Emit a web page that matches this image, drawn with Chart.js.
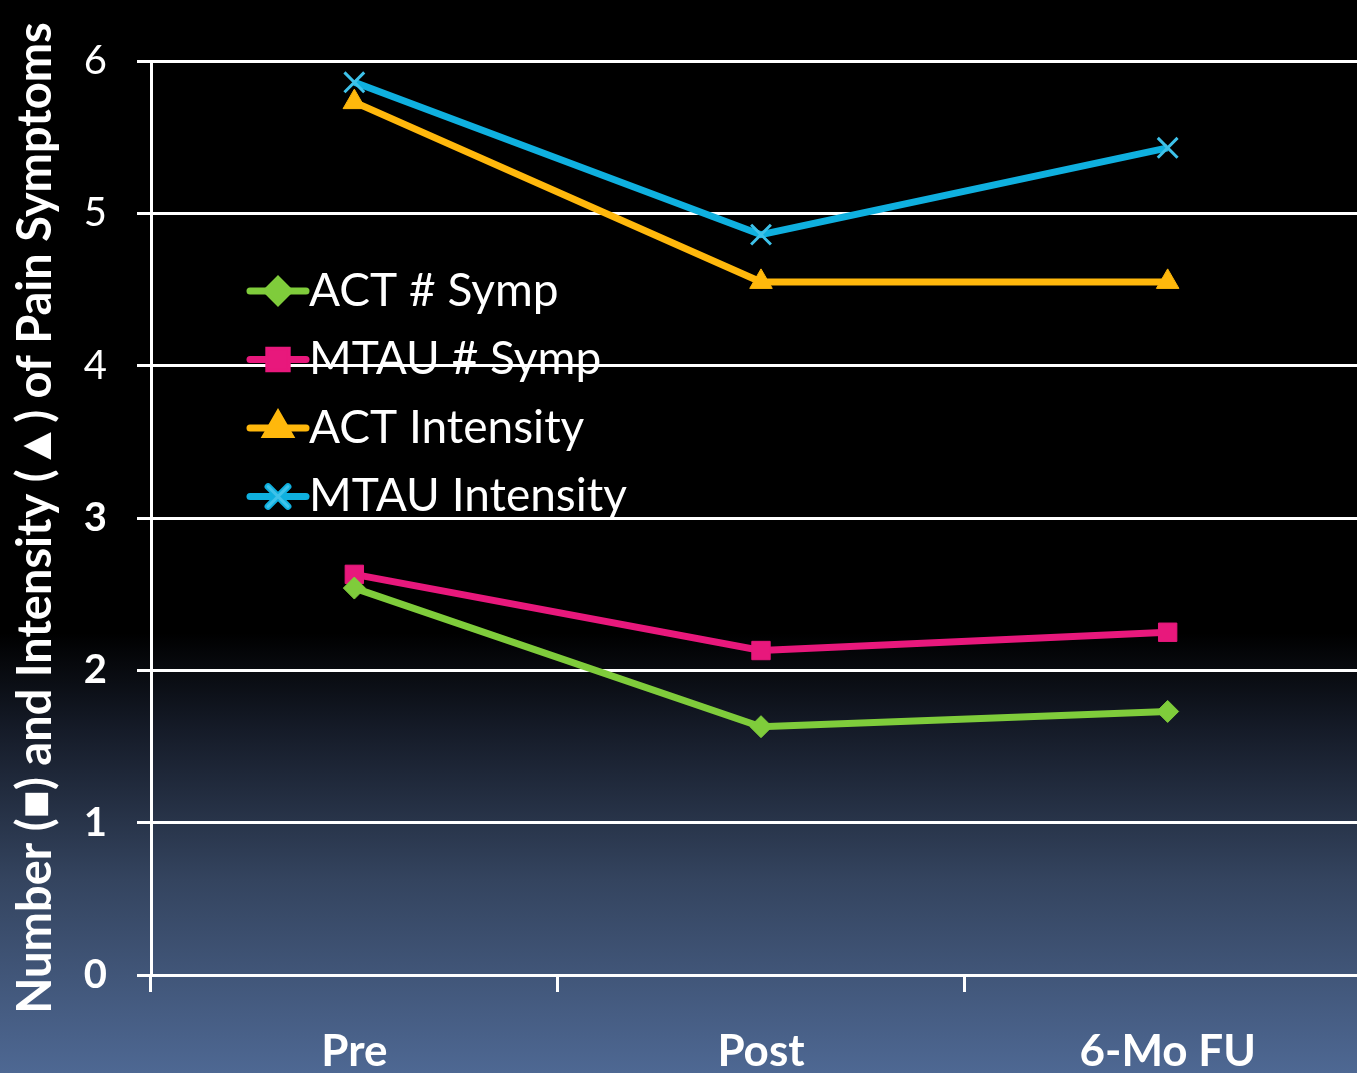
<!DOCTYPE html>
<html>
<head>
<meta charset="utf-8">
<script src="https://cdn.jsdelivr.net/npm/chart.js@4.4.0/dist/chart.umd.min.js"></script>
<style>
    html, body { margin: 0; padding: 0; overflow: hidden; background: #000; }
    #painChart { display: block; }
</style>
</head>
<body>
<canvas id="painChart" width="1388" height="1073"></canvas>
<script>
/* ================================
   DATA
================================ */

const categories = ["Pre", "Post", "6-Mo FU"];

const actSymp = [2.54, 1.63, 1.73];
const mtauSymp = [2.63, 2.13, 2.25];
const actIntensity = [5.73, 4.55, 4.55];
const mtauIntensity = [5.86, 4.86, 5.43];

const yTicks = [0, 1, 2, 3, 4, 5, 6];

const FONT = "Lato, 'Open Sans', sans-serif";

/* ================================
   BACKGROUND (black -> slate blue)
================================ */

const backgroundPlugin = {
    id: "bg",
    beforeDraw(chart) {
        const ctx = chart.ctx;
        const h = chart.height;
        const g = ctx.createLinearGradient(0, 0, 0, h);
        g.addColorStop(0, "#000000");
        g.addColorStop(0.59, "#000000");
        g.addColorStop(0.68, "#151b28");
        g.addColorStop(0.82, "#34445f");
        g.addColorStop(1, "#4e6893");
        ctx.save();
        ctx.fillStyle = g;
        ctx.fillRect(0, 0, chart.width, h);
        ctx.restore();
    }
};

/* ================================
   LEGEND INSIDE PLOT
================================ */

const insideLegend = {
    id: "insideLegend",
    afterDatasetsDraw(chart) {
        const ctx = chart.ctx;
        const area = chart.chartArea;
        const x0 = area.left + 99;
        const lineLen = 56;
        const rowTop = area.top + 230;
        const rowGap = 68.5;

        ctx.save();
        chart.data.datasets.forEach((ds, i) => {
            const y = rowTop + i * rowGap;
            ctx.strokeStyle = ds.borderColor;
            ctx.lineWidth = 7;
            ctx.lineCap = "round";
            ctx.beginPath();
            ctx.moveTo(x0, y);
            ctx.lineTo(x0 + lineLen, y);
            ctx.stroke();

            Chart.helpers.drawPoint(ctx, {
                pointStyle: ds.pointStyle,
                radius: ds.pointRadius,
                rotation: 0,
                borderWidth: ds.pointBorderWidth
            }, x0 + lineLen / 2, y);
            ctx.fillStyle = ds.pointBackgroundColor;
            ctx.strokeStyle = ds.pointBorderColor;
            ctx.lineWidth = ds.pointBorderWidth;
            if (ds.pointStyle !== "crossRot") ctx.fill();
            ctx.stroke();

            ctx.fillStyle = "#ffffff";
            ctx.font = "46px " + FONT;
            ctx.textBaseline = "middle";
            ctx.textAlign = "left";
            ctx.fillText(ds.label, x0 + lineLen + 3, y);
        });
        ctx.restore();
    }
};

/* ================================
   CREATE CHART
================================ */

const ctx = document.getElementById("painChart").getContext("2d");

new Chart(ctx, {

    type: "line",

    data: {

        labels: categories,

        datasets: [

            {
                label: "ACT # Symp",
                data: actSymp,
                borderColor: "#7fcc3b",
                backgroundColor: "#7fcc3b",
                pointBackgroundColor: "#7fcc3b",
                pointBorderColor: "#7fcc3b",
                pointStyle: "rectRot",
                pointRadius: 11,
                pointBorderWidth: 1,
                borderWidth: 7
            },

            {
                label: "MTAU # Symp",
                data: mtauSymp,
                borderColor: "#e8187c",
                backgroundColor: "#e8187c",
                pointBackgroundColor: "#e8187c",
                pointBorderColor: "#e8187c",
                pointStyle: "rect",
                pointRadius: 13,
                pointBorderWidth: 1,
                borderWidth: 7
            },

            {
                label: "ACT Intensity",
                data: actIntensity,
                borderColor: "#ffb80c",
                backgroundColor: "#ffb80c",
                pointBackgroundColor: "#ffb80c",
                pointBorderColor: "#ffb80c",
                pointStyle: "triangle",
                pointRadius: 13,
                pointBorderWidth: 1,
                borderWidth: 7
            },

            {
                label: "MTAU Intensity",
                data: mtauIntensity,
                borderColor: "#0fb0df",
                backgroundColor: "#0fb0df",
                pointBackgroundColor: "#3ec2ea",
                pointBorderColor: "#3ec2ea",
                pointStyle: "crossRot",
                pointRadius: 14,
                pointBorderWidth: 3,
                borderWidth: 7
            }

        ]

    },

    options: {

        responsive: false,
        animation: false,

        layout: {
            padding: { top: 61, right: 1, bottom: 0, left: 0 }
        },

        plugins: {
            legend: { display: false },
            tooltip: { enabled: false }
        },

        scales: {

            x: {
                offset: true,
                grid: {
                    display: true,
                    offset: true,
                    drawOnChartArea: false,
                    drawTicks: true,
                    tickLength: 17,
                    color: "#ffffff",
                    lineWidth: 3
                },
                border: { display: false },
                ticks: {
                    color: "#ffffff",
                    padding: 33,
                    font: { family: FONT, size: 44, weight: "bold" }
                },
                afterFit(scale) { scale.height = 98; }
            },

            y: {
                min: 0,
                max: 6,
                afterBuildTicks(scale) {
                    scale.ticks = yTicks.map(v => ({ value: v }));
                },
                grid: {
                    color: "#ffffff",
                    lineWidth: 3,
                    drawTicks: true,
                    tickLength: 14
                },
                border: { display: true, color: "#ffffff", width: 3 },
                ticks: {
                    color: "#ffffff",
                    padding: 30,
                    font: function (c) {
                        const v = c.tick ? c.tick.value : 0;
                        return { family: FONT, size: 40, weight: v <= 3 ? "bold" : "normal" };
                    }
                },
                title: {
                    display: true,
                    text: "Number (\u25A0) and Intensity (\u25B2) of Pain Symptoms",
                    color: "#ffffff",
                    padding: { top: 8, bottom: 0 },
                    font: { family: FONT, size: 47, weight: "bold" }
                },
                afterFit(scale) { scale.width = 151; }
            }

        }

    },

    plugins: [backgroundPlugin, insideLegend]

});
</script>
</body>
</html>
